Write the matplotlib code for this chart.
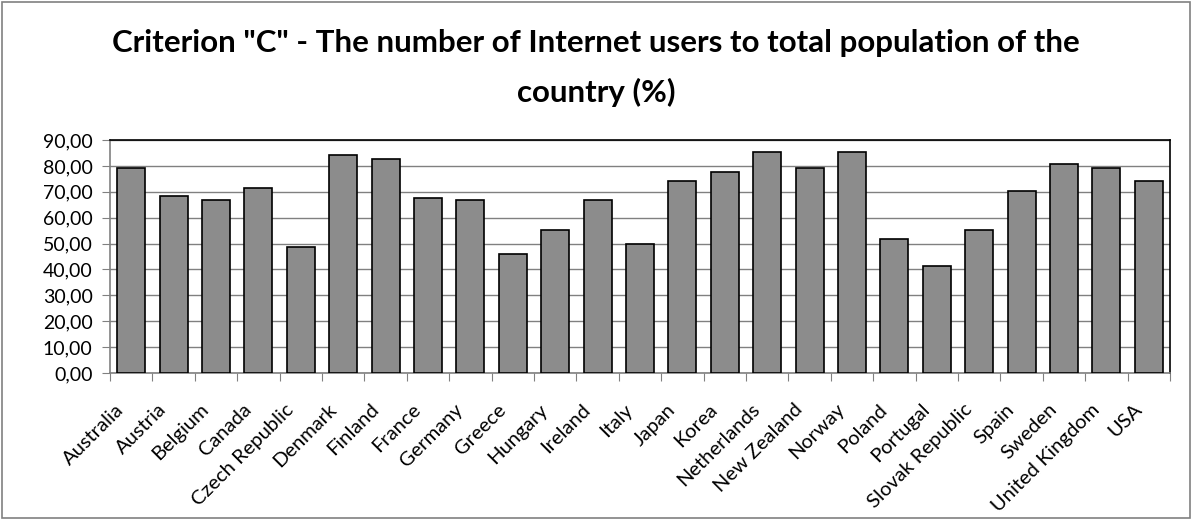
import numpy as np
import matplotlib.pyplot as plt
from matplotlib.patches import Rectangle
from matplotlib.ticker import FuncFormatter, MultipleLocator
from matplotlib.transforms import ScaledTranslation

paises = ["Australia", "Austria", "Belgium", "Canada", "Czech Republic", "Denmark",
          "Finland", "France", "Germany", "Greece", "Hungary", "Ireland", "Italy",
          "Japan", "Korea", "Netherlands", "New Zealand", "Norway", "Poland",
          "Portugal", "Slovak Republic", "Spain", "Sweden", "United Kingdom", "USA"]
usuarios = [79.3, 68.3, 67.0, 71.5, 48.6, 84.2, 82.6, 67.6, 67.0, 45.9, 55.1, 67.0,
            49.9, 74.2, 77.5, 85.3, 79.3, 85.3, 51.8, 41.4, 55.1, 70.3, 80.8, 79.3, 74.2]

plt.rcParams['font.family'] = ['Lato', 'DejaVu Sans']

fig = plt.figure(figsize=(11.92, 5.2), dpi=100)
ax = fig.add_axes([110 / 1192, 1 - 373 / 520, 1060 / 1192, 233 / 520])

x = np.arange(len(paises))
ax.bar(x, usuarios, width=0.66, color='#8c8c8c', edgecolor='black', linewidth=1.2, zorder=3)

ax.set_xlim(-0.5, len(paises) - 0.5)
ax.set_ylim(0, 90)
ax.yaxis.set_major_locator(MultipleLocator(10))
ax.yaxis.set_major_formatter(FuncFormatter(lambda v, p: f"{v:.2f}".replace('.', ',')))
ax.grid(axis='y', color='#808080', linewidth=1, zorder=0)

# ticks en los limites entre categorias
ax.set_xticks(np.arange(-0.5, len(paises), 1))
ax.set_xticklabels([])
ax.set_xticks(x, minor=True)
ax.set_xticklabels(paises, minor=True, rotation=45, ha='right', rotation_mode='anchor')
ax.tick_params(axis='x', which='minor', length=0, pad=20, labelsize=14.5)
ax.tick_params(axis='x', which='major', length=5.5, color='#808080')
ax.tick_params(axis='y', length=5.5, color='#808080', labelsize=14, pad=7)

# desplazar etiquetas un poco a la izquierda
desplaz = ScaledTranslation(-16 / 100, 0, fig.dpi_scale_trans)
for lbl in ax.get_xticklabels(minor=True):
    lbl.set_transform(lbl.get_transform() + desplaz)

for lado in ['top', 'right']:
    ax.spines[lado].set_color('black')
    ax.spines[lado].set_linewidth(1.2)
for lado in ['left', 'bottom']:
    ax.spines[lado].set_color('#808080')
    ax.spines[lado].set_linewidth(1.2)

fig.text(0.5, 1 - 52 / 520, 'Criterion "C" - The number of Internet users to total population of the',
         ha='center', va='baseline', fontsize=22.5, fontweight='bold')
fig.text(0.5, 1 - 102 / 520, 'country (%)', ha='center', va='baseline', fontsize=22.5, fontweight='bold')

fig.patches.append(Rectangle((0.002, 0.003), 0.996, 0.994, transform=fig.transFigure,
                             fill=False, edgecolor='#808080', linewidth=1.2))

fig.savefig('out.png', dpi=100)
